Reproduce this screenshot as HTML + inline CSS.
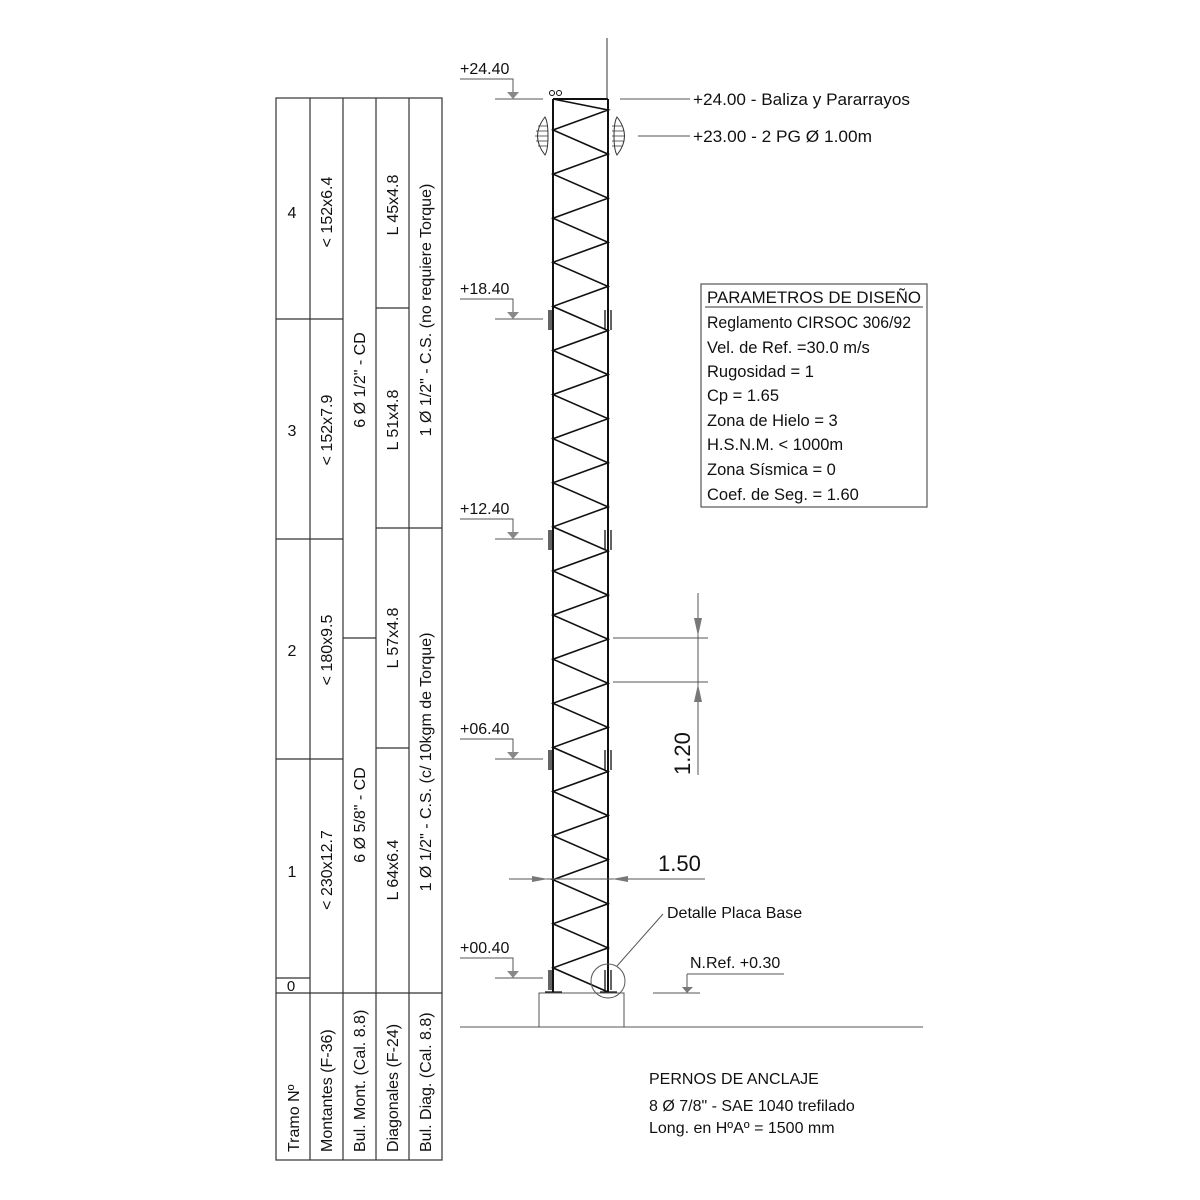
<!DOCTYPE html>
<html><head><meta charset="utf-8"><style>html,body{margin:0;padding:0;background:#fff}svg{display:block}text{font-family:"Liberation Sans",sans-serif;fill:#111}</style></head><body>
<svg width="1200" height="1200" viewBox="0 0 1200 1200" xmlns="http://www.w3.org/2000/svg">
<rect width="1200" height="1200" fill="#fff"/>
<!-- TABLE -->
<g stroke="#333" stroke-width="1.2" fill="none">
<rect x="276" y="98" width="166" height="1062"/>
<line x1="310" y1="98" x2="310" y2="1160"/>
<line x1="343" y1="98" x2="343" y2="1160"/>
<line x1="376" y1="98" x2="376" y2="1160"/>
<line x1="409" y1="98" x2="409" y2="1160"/>
<line x1="276" y1="993" x2="442" y2="993"/>
<line x1="276" y1="319" x2="343" y2="319"/>
<line x1="276" y1="539" x2="343" y2="539"/>
<line x1="276" y1="759" x2="343" y2="759"/>
<line x1="276" y1="978" x2="310" y2="978"/>
<line x1="343" y1="638" x2="376" y2="638"/>
<line x1="376" y1="308" x2="409" y2="308"/>
<line x1="376" y1="528" x2="442" y2="528"/>
<line x1="376" y1="748" x2="409" y2="748"/>
</g>
<g font-size="16" text-anchor="middle">
<text x="292" y="218">4</text>
<text x="292" y="436">3</text>
<text x="292" y="656">2</text>
<text x="292" y="877">1</text>
<text x="291" y="991" font-size="15">0</text>
<g transform="translate(332,212) rotate(-90)"><text>&lt; 152x6.4</text></g>
<g transform="translate(332,430) rotate(-90)"><text>&lt; 152x7.9</text></g>
<g transform="translate(332,650) rotate(-90)"><text>&lt; 180x9.5</text></g>
<g transform="translate(332,870) rotate(-90)"><text>&lt; 230x12.7</text></g>
<g transform="translate(365,380) rotate(-90)"><text>6 Ø 1/2" - CD</text></g>
<g transform="translate(365,815) rotate(-90)"><text>6 Ø 5/8" - CD</text></g>
<g transform="translate(398,205) rotate(-90)"><text>L 45x4.8</text></g>
<g transform="translate(398,420) rotate(-90)"><text>L 51x4.8</text></g>
<g transform="translate(398,638) rotate(-90)"><text>L 57x4.8</text></g>
<g transform="translate(398,870) rotate(-90)"><text>L 64x6.4</text></g>
<g transform="translate(431,310) rotate(-90)"><text>1 Ø 1/2" - C.S. (no requiere Torque)</text></g>
<g transform="translate(431,762) rotate(-90)"><text>1 Ø 1/2" - C.S. (c/ 10kgm de Torque)</text></g>
</g>
<g font-size="16" text-anchor="start">
<g transform="translate(299,1152) rotate(-90)"><text>Tramo Nº</text></g>
<g transform="translate(332,1152) rotate(-90)"><text>Montantes (F-36)</text></g>
<g transform="translate(365,1152) rotate(-90)"><text>Bul. Mont. (Cal. 8.8)</text></g>
<g transform="translate(398,1152) rotate(-90)"><text>Diagonales (F-24)</text></g>
<g transform="translate(431,1152) rotate(-90)"><text>Bul. Diag. (Cal. 8.8)</text></g>
</g>
<!-- TOWER -->
<g stroke="#111" stroke-width="2" fill="none">
<line x1="553" y1="99" x2="553" y2="993"/>
<line x1="608" y1="99" x2="608" y2="993"/>
<line x1="553" y1="99" x2="608" y2="99"/>
<polyline stroke-width="1.6" points="553,99 608,110 553,130.0 608,154.1 553,174.1 608,198.2 553,218.2 608,242.3 553,262.3 608,286.4 553,306.4 608,330.5 553,350.5 608,374.6 553,394.6 608,418.7 553,438.7 608,462.8 553,482.8 608,506.9 553,526.9 608,551.0 553,571.0 608,595.1 553,615.1 608,639.2 553,659.2 608,683.3 553,703.3 608,727.4 553,747.4 608,771.5 553,791.5 608,815.6 553,835.6 608,859.7 553,879.7 608,903.8 553,923.8 608,947.9 553,967.9 608,992"/>
</g>
<line x1="607" y1="38" x2="607" y2="99" stroke="#333" stroke-width="1"/>
<g stroke="#111" stroke-width="1" fill="none"><circle cx="552" cy="93" r="2.5"/><circle cx="559" cy="93" r="2.5"/></g>
<!-- splices -->
<g stroke="#111" stroke-width="1.3">
<line x1="549" y1="310" x2="549" y2="330"/><line x1="551" y1="310" x2="551" y2="330"/><line x1="605" y1="310" x2="605" y2="330"/><line x1="611" y1="310" x2="611" y2="330"/>
<line x1="549" y1="530" x2="549" y2="550"/><line x1="551" y1="530" x2="551" y2="550"/><line x1="605" y1="530" x2="605" y2="550"/><line x1="611" y1="530" x2="611" y2="550"/>
<line x1="549" y1="750" x2="549" y2="770"/><line x1="551" y1="750" x2="551" y2="770"/><line x1="605" y1="750" x2="605" y2="770"/><line x1="611" y1="750" x2="611" y2="770"/>
<line x1="549" y1="970" x2="549" y2="990"/><line x1="551" y1="970" x2="551" y2="990"/><line x1="605" y1="970" x2="605" y2="990"/><line x1="611" y1="970" x2="611" y2="990"/>
<line x1="545" y1="992" x2="562" y2="992"/><line x1="600" y1="992" x2="617" y2="992"/>
</g>
<!-- antennas -->
<g stroke="#333" stroke-width="1" fill="none">
<path d="M545,117 Q530,136 545,155 Q548,150 548,136 Q548,122 545,117Z"/>
<path d="M617,117 Q632,136 617,155 Q614,150 614,136 Q614,122 617,117Z"/>
<path d="M538,126H548M536,131H548M535,136H548M536,141H548M538,146H548M612,126H622M612,131H624M612,136H625M612,141H624M612,146H622" stroke-width="0.7"/>
</g>
<!-- level marks -->
<g stroke="#555" stroke-width="1" fill="none">
<path d="M460,79H513V92M495,99H543"/><path d="M460,299H513V312M495,319H543"/><path d="M460,519H513V532M495,539H543"/><path d="M460,739H513V752M495,759H543"/><path d="M460,958H513V971M495,978H543"/>
</g>
<g fill="#888"><path d="M507,92L519,92L513,99Z"/><path d="M507,312L519,312L513,319Z"/><path d="M507,532L519,532L513,539Z"/><path d="M507,752L519,752L513,759Z"/><path d="M507,971L519,971L513,978Z"/></g>
<g font-size="16">
<text x="460" y="74">+24.40</text><text x="460" y="294">+18.40</text><text x="460" y="514">+12.40</text><text x="460" y="734">+06.40</text><text x="460" y="953">+00.40</text>
<text x="693" y="105" font-size="17" textLength="217" lengthAdjust="spacingAndGlyphs">+24.00  -  Baliza y Pararrayos</text>
<text x="693" y="142" font-size="17" textLength="179" lengthAdjust="spacingAndGlyphs">+23.00  -  2 PG Ø 1.00m</text>
<text x="667" y="918">Detalle Placa Base</text>
<text x="690" y="968">N.Ref. +0.30</text>
<text x="649" y="1084">PERNOS DE ANCLAJE</text>
<text x="649" y="1111">8 Ø 7/8" - SAE 1040 trefilado</text>
<text x="649" y="1133">Long. en HºAº = 1500 mm</text>
</g>
<g stroke="#555" stroke-width="1" fill="none">
<line x1="620" y1="99" x2="690" y2="99"/><line x1="638" y1="136" x2="690" y2="136"/>
<line x1="663" y1="914" x2="617" y2="966"/><circle cx="608" cy="981" r="17"/>
<path d="M687,974H784M687,974V988M653,993H700"/>
<rect x="539" y="993" width="85" height="34"/>
<line x1="460" y1="1027" x2="923" y2="1027"/>
<line x1="698" y1="593" x2="698" y2="775"/>
<line x1="613" y1="638" x2="708" y2="638"/><line x1="613" y1="682" x2="708" y2="682"/>
<line x1="509" y1="879" x2="705" y2="879"/>
</g>
<g fill="#777"><path d="M694,618L702,618L698,636Z"/><path d="M694,702L702,702L698,684Z"/>
<path d="M532,876L548,879L532,882Z"/><path d="M628,876L612,879L628,882Z"/><path d="M682,987L693,987L687,993Z"/></g>
<text x="658" y="871" font-size="22">1.50</text>
<g transform="translate(690,775) rotate(-90)"><text font-size="22">1.20</text></g>
<!-- params -->
<rect x="701" y="284" width="226" height="223" fill="none" stroke="#555" stroke-width="1.2"/>
<line x1="705" y1="307" x2="923" y2="307" stroke="#333" stroke-width="1"/>
<g font-size="16.5">
<text x="707" y="303" textLength="214" lengthAdjust="spacingAndGlyphs">PARAMETROS DE DISEÑO</text>
<text x="707" y="328" textLength="204" lengthAdjust="spacingAndGlyphs">Reglamento CIRSOC 306/92</text>
<text x="707" y="353">Vel. de Ref. =30.0 m/s</text>
<text x="707" y="377">Rugosidad = 1</text>
<text x="707" y="401">Cp = 1.65</text>
<text x="707" y="426">Zona de Hielo = 3</text>
<text x="707" y="450">H.S.N.M. &lt; 1000m</text>
<text x="707" y="475">Zona Sísmica = 0</text>
<text x="707" y="500">Coef. de Seg. = 1.60</text>
</g>
</svg>
</body></html>
